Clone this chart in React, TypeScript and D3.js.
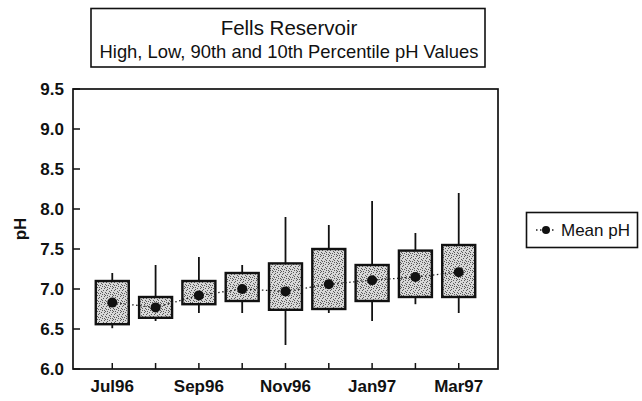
import React from "react";
import * as d3 from "d3";

const months = ["Jul96", "Aug96", "Sep96", "Oct96", "Nov96", "Dec96", "Jan97", "Feb97", "Mar97"];
const tickLabelMonths = ["Jul96", "Sep96", "Nov96", "Jan97", "Mar97"];
const highs = [7.2, 7.3, 7.4, 7.3, 7.9, 7.8, 8.1, 7.7, 8.2];
const p90 = [7.1, 6.9, 7.1, 7.2, 7.32, 7.5, 7.3, 7.48, 7.55];
const p10 = [6.56, 6.64, 6.81, 6.85, 6.74, 6.75, 6.85, 6.9, 6.9];
const lows = [6.51, 6.6, 6.7, 6.7, 6.3, 6.7, 6.6, 6.81, 6.7];
const means = [6.83, 6.77, 6.92, 7.0, 6.97, 7.06, 7.11, 7.15, 7.21];
const yTicks = [6.0, 6.5, 7.0, 7.5, 8.0, 8.5, 9.0, 9.5];

const W = 642;
const H = 401;
const plot = { left: 73, right: 498, top: 89, bottom: 369 };
const FONT = "'Liberation Sans', Arial, Helvetica, sans-serif";

export default function App() {
  const x = d3.scalePoint<string>().domain(months).range([plot.left, plot.right]).padding(0.907);
  const y = d3.scaleLinear().domain([6.0, 9.5]).range([plot.bottom, plot.top]);
  const boxW = 33;
  const line = d3
    .line<number>()
    .x((_, i) => x(months[i]) as number)
    .y((d) => y(d));

  // deterministic stipple dots
  const stipple: [number, number][] = [
    [0, 0], [3, 1], [5, 3], [1, 4], [4, 5], [2, 2], [6, 6], [0, 6], [3, 7], [7, 2], [5, 0], [1, 7], [6, 4], [2, 5],
  ];

  return (
    <svg
      width={W}
      height={H}
      style={{ position: "absolute", left: 0, top: 0, background: "#fff" }}
      fontFamily={FONT}
    >
      <defs>
        <pattern id="stip" width="8" height="8" patternUnits="userSpaceOnUse">
          <rect width="8" height="8" fill="#d8d8d8" />
          {stipple.map(([a, b], i) => (
            <rect key={i} x={a} y={b} width="1" height="1" fill="#5a5a5a" />
          ))}
        </pattern>
      </defs>

      {/* title box */}
      <rect x={91} y={8.5} width={394} height={58.5} fill="#fff" stroke="#111" strokeWidth={1.6} />
      <text x={289} y={35} textAnchor="middle" fontSize={20.5} fill="#111">
        Fells Reservoir
      </text>
      <text x={289} y={58} textAnchor="middle" fontSize={18.4} fill="#111">
        High, Low, 90th and 10th Percentile pH Values
      </text>

      {/* plot frame */}
      <rect
        x={plot.left}
        y={plot.top}
        width={plot.right - plot.left}
        height={plot.bottom - plot.top}
        fill="none"
        stroke="#111"
        strokeWidth={1.7}
      />

      {/* y ticks */}
      {yTicks.map((t) => (
        <g key={t}>
          <line x1={plot.left} x2={plot.left + 7} y1={y(t)} y2={y(t)} stroke="#111" strokeWidth={1.5} />
          <text
            x={64}
            y={y(t)}
            textAnchor="end"
            dominantBaseline="central"
            fontSize={17}
            fontWeight="bold"
            fill="#111"
          >
            {t.toFixed(1)}
          </text>
        </g>
      ))}

      {/* x ticks */}
      {months.map((m) => (
        <line
          key={m}
          x1={x(m)}
          x2={x(m)}
          y1={plot.bottom}
          y2={plot.bottom - 6}
          stroke="#111"
          strokeWidth={1.5}
        />
      ))}
      {tickLabelMonths.map((m) => (
        <text key={m} x={x(m)} y={392} textAnchor="middle" fontSize={17} fontWeight="bold" fill="#111">
          {m}
        </text>
      ))}

      <text
        transform="translate(26,229) rotate(-90)"
        textAnchor="middle"
        fontSize={17}
        fontWeight="bold"
        fill="#111"
      >
        pH
      </text>

      {/* whiskers */}
      {months.map((m, i) => (
        <g key={m}>
          <line x1={x(m)} x2={x(m)} y1={y(highs[i])} y2={y(p90[i])} stroke="#111" strokeWidth={1.8} />
          <line x1={x(m)} x2={x(m)} y1={y(p10[i])} y2={y(lows[i])} stroke="#111" strokeWidth={1.8} />
        </g>
      ))}

      {/* boxes */}
      {months.map((m, i) => (
        <rect
          key={m}
          x={(x(m) as number) - boxW / 2}
          y={y(p90[i])}
          width={boxW}
          height={y(p10[i]) - y(p90[i])}
          fill="url(#stip)"
          stroke="#111"
          strokeWidth={2.4}
        />
      ))}

      {/* mean line */}
      <path d={line(means) || ""} fill="none" stroke="#222" strokeWidth={1.3} strokeDasharray="1.5,2.5" />
      {means.map((v, i) => (
        <circle key={i} cx={x(months[i])} cy={y(v)} r={5} fill="#111" />
      ))}

      {/* legend */}
      <rect x={526.5} y={212.5} width={111} height={35} fill="#fff" stroke="#111" strokeWidth={1.6} />
      <line x1={536} x2={556} y1={230} y2={230} stroke="#222" strokeWidth={1.3} strokeDasharray="1.5,2.5" />
      <circle cx={546} cy={230} r={4} fill="#111" />
      <text x={561} y={236} fontSize={17} fill="#111">
        Mean pH
      </text>
    </svg>
  );
}
